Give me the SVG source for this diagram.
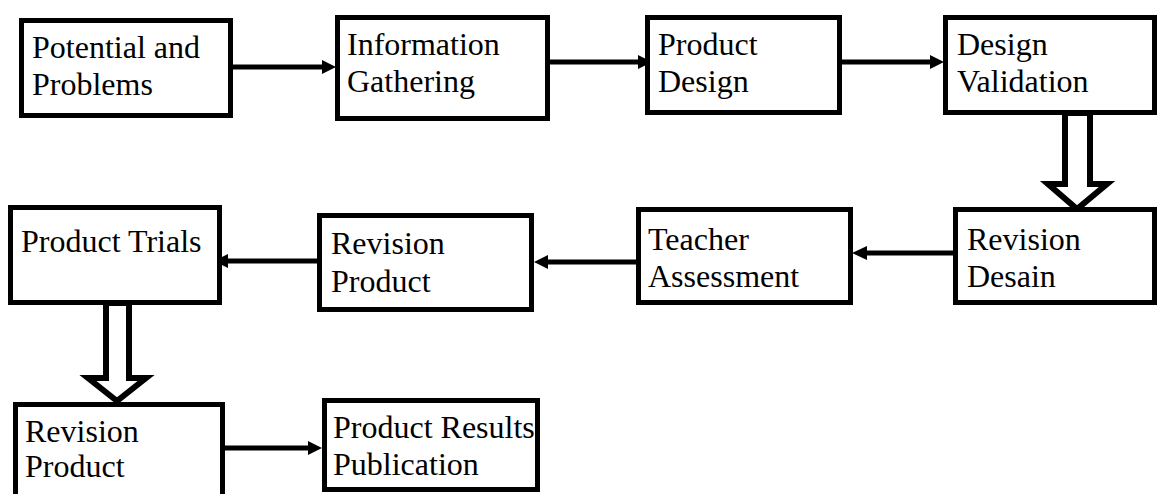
<svg xmlns="http://www.w3.org/2000/svg" width="1158" height="494" viewBox="0 0 1158 494">
<style>
.box{fill:#fff;stroke:#000;stroke-width:5}
.t{font-family:"Liberation Serif","Times New Roman",serif;font-size:32px;fill:#000}
.ln{stroke:#000;stroke-width:5;fill:none}
.hd{fill:#000}
.hollow{fill:#fff;stroke:#000;stroke-width:6;stroke-linejoin:miter}
</style>
<rect width="1158" height="494" fill="#fff"/>
<g id="connectors">
<line class="ln" x1="233" y1="67" x2="324" y2="67"/><polygon class="hd" points="322,60 336,67 322,74"/>
<line class="ln" x1="550" y1="62" x2="640" y2="62"/><polygon class="hd" points="638,55 652,62 638,69"/>
<line class="ln" x1="842" y1="62" x2="932" y2="62"/><polygon class="hd" points="930,55 944,62 930,69"/>
<line class="ln" x1="953" y1="253" x2="865" y2="253"/><polygon class="hd" points="867,246 852,253 867,260"/>
<line class="ln" x1="636" y1="262" x2="546" y2="262"/><polygon class="hd" points="548,255 534,262 548,269"/>
<line class="ln" x1="317" y1="261" x2="226" y2="261"/><polygon class="hd" points="228,254 214,261 228,268"/>
<line class="ln" x1="225" y1="448" x2="310" y2="448"/><polygon class="hd" points="308,441 322,448 308,455"/>
<polygon class="hollow" points="1065,113 1065,184 1048,184 1077,209 1107,184 1090,184 1090,113"/>
<polygon class="hollow" points="106,303 106,378 88,378 117,401 146,378 129,378 129,303"/>
</g>
<g id="n1"><rect class="box" x="21.5" y="20.5" width="209" height="95"/><text class="t" x="32" y="58">Potential and</text><text class="t" x="32" y="95">Problems</text></g>
<g id="n2"><rect class="box" x="337.5" y="17.5" width="210" height="101"/><text class="t" x="347" y="55">Information</text><text class="t" x="347" y="92">Gathering</text></g>
<g id="n3"><rect class="box" x="647.5" y="17.5" width="192" height="95"/><text class="t" x="658" y="55">Product</text><text class="t" x="658" y="92">Design</text></g>
<g id="n4"><rect class="box" x="945.5" y="17.5" width="209" height="95"/><text class="t" x="957" y="55">Design</text><text class="t" x="957" y="92">Validation</text></g>
<g id="n5"><rect class="box" x="955.5" y="209.5" width="199" height="93"/><text class="t" x="967" y="250">Revision</text><text class="t" x="967" y="287">Desain</text></g>
<g id="n6"><rect class="box" x="638.5" y="209.5" width="212" height="93"/><text class="t" x="648" y="250">Teacher</text><text class="t" x="648" y="287">Assessment</text></g>
<g id="n7"><rect class="box" x="319.5" y="215.5" width="212" height="94"/><text class="t" x="331" y="254">Revision</text><text class="t" x="331" y="292">Product</text></g>
<g id="n8"><rect class="box" x="10.5" y="207.5" width="209" height="95"/><text class="t" x="21" y="252">Product Trials</text></g>
<g id="n9"><rect class="box" x="15.5" y="404.5" width="207" height="100"/><text class="t" x="25" y="442">Revision</text><text class="t" x="25" y="477">Product</text></g>
<g id="n10"><rect class="box" x="324.5" y="400.5" width="213" height="89"/><text class="t" x="333" y="438">Product Results</text><text class="t" x="333" y="475">Publication</text></g>
</svg>
